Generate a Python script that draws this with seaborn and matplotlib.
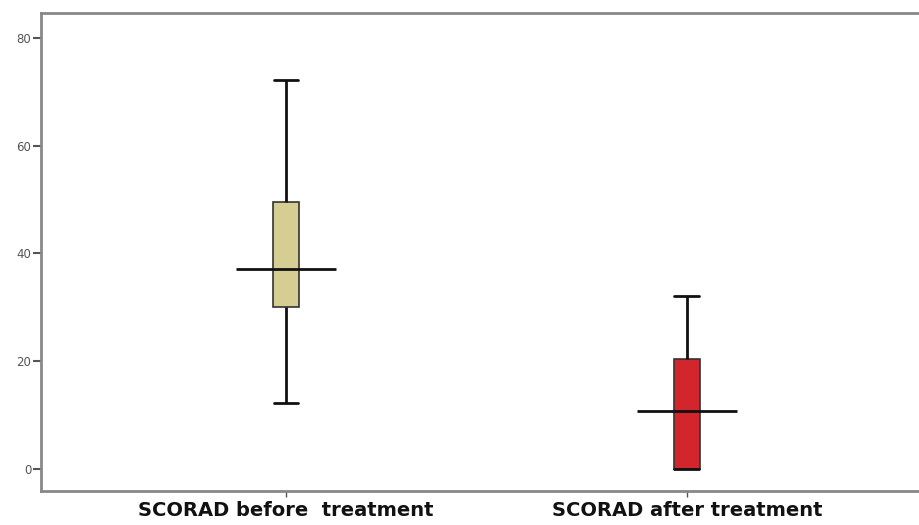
import numpy as np
import pandas as pd
import matplotlib
matplotlib.use("Agg")
import matplotlib.pyplot as plt
import seaborn as sns

# five-number summaries (min, q1, median, q3, max)
groups = ["SCORAD before  treatment", "SCORAD after treatment"]
before = [12.2, 30.0, 37.1, 49.5, 72.2]
after = [0.0, 0.0, 10.8, 20.4, 32.1]
box_colors = ["#d5cd92", "#d3262c"]
y_ticks = [0, 20, 40, 60, 80]

df = pd.DataFrame({
    "group": [groups[0]] * len(before) + [groups[1]] * len(after),
    "score": before + after,
})

sns.set_style("white")
plt.rcParams["font.family"] = ["DejaVu Sans"]

fig = plt.figure(figsize=(9.19, 5.25), dpi=100)
ax = fig.add_axes([41 / 919, 1 - 491 / 525, 1 - 41 / 919, (491 - 13) / 525])

sns.boxplot(data=df, x="group", y="score", hue="group", palette=box_colors,
            saturation=1, width=0.065, whis=(0, 100), linewidth=1.2,
            legend=False, ax=ax, capwidths=0.062,
            boxprops=dict(edgecolor="#333333"),
            whiskerprops=dict(color="#111111", linewidth=2),
            capprops=dict(color="#111111", linewidth=2),
            medianprops=dict(color="none"))

# long median bars, as SPSS draws them
medians = df.groupby("group", sort=False)["score"].median()
for i, g in enumerate(groups):
    ax.hlines(medians[g], i - 0.125, i + 0.125, color="#111111", linewidth=2, zorder=5)

ax.set_xlim(-0.611, 1.579)
ax.set_ylim(-4.1, 84.6)
ax.set_yticks(y_ticks)
ax.set_xlabel("")
ax.set_ylabel("")

for side in ["left", "bottom", "top"]:
    ax.spines[side].set_color("#888888")
    ax.spines[side].set_linewidth(2)
ax.spines["right"].set_visible(False)

ax.tick_params(axis="y", left=True, length=6, width=1.5, color="#555555",
               labelsize=8.5, labelcolor="#555555", pad=1)
ax.tick_params(axis="x", bottom=True, length=4, width=1, color="#555555", pad=3)
for lbl in ax.get_xticklabels():
    lbl.set_fontweight("bold")
    lbl.set_fontsize(14)
    lbl.set_color("#111111")

fig.savefig("out.png", dpi=100)
